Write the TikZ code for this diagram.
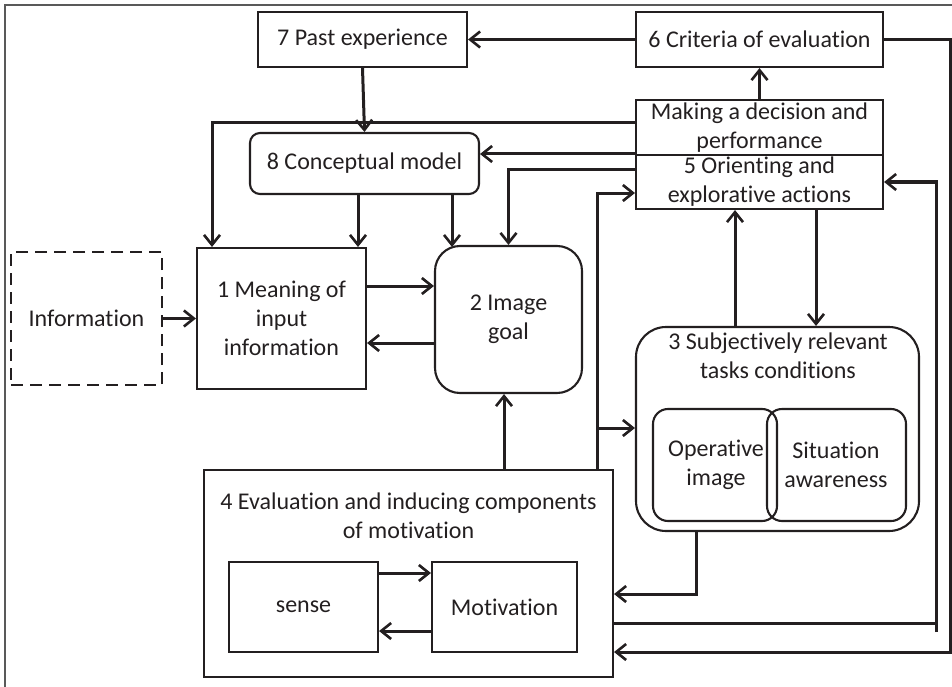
\documentclass[tikz,border=0pt]{standalone}
\usepackage{fontspec}
\setmainfont{Carlito}[Ligatures={NoCommon,NoContextual}]
\usetikzlibrary{arrows.meta}
\definecolor{ink}{HTML}{231F20}
\begin{document}
\begin{tikzpicture}[x=1pt,y=-1pt,
  every node/.style={text=ink,font=\fontsize{24}{29}\selectfont,align=center,inner sep=0pt},
  box/.style={draw=ink,line width=2.1pt,rectangle},
  rbox/.style={box,rounded corners=#1},
  arr/.style={draw=ink,line width=3pt,-{Straight Barb[length=10pt,width=16pt,line width=2.6pt]}},
  rail/.style={draw=ink,line width=3pt}]
\useasboundingbox (0,0) rectangle (952,687);
% page frame
\draw[gray!70!black,line width=1.2pt] (5,687) -- (5,5) -- (952,5);

% boxes
\node[box,dash pattern=on 12pt off 7pt,minimum width=151pt,minimum height=133pt] (info) at (86.5,318.5) {Information};
\node[box,minimum width=169pt,minimum height=141pt] (b1) at (281.5,318.5) {1 Meaning of\\input\\information};
\node[rbox=25pt,minimum width=147pt,minimum height=147pt] (b2) at (508.5,319.5) {2 Image\\goal};
\node[box,minimum width=209pt,minimum height=55pt] (b7) at (362.5,39.5) {7 Past experience};
\node[box,minimum width=247pt,minimum height=55pt] (b6) at (759.5,39.5) {6 Criteria of evaluation};
\node[box,minimum width=247pt,minimum height=55pt] (bdec) at (759.5,127.5) {Making a decision and\\performance};
\node[box,minimum width=247pt,minimum height=54pt] (b5) at (759.5,182) {5 Orienting and\\explorative actions};
\node[rbox=10pt,minimum width=229pt,minimum height=61pt] (b8) at (364.5,163.5) {8 Conceptual model};
\node[rbox=30pt,minimum width=283pt,minimum height=204pt] (b3) at (777.5,429) {};
\node (b3t) at (778,356) {3 Subjectively relevant\\tasks conditions};
\node[rbox=15pt,minimum width=124pt,minimum height=112pt] (op) at (715,465) {};
\node[rbox=15pt,minimum width=139pt,minimum height=112pt] (sa) at (836.5,465) {};
\node (opt) at (716,465) {Operative\\image};
\node (sat) at (836,465) {Situation\\awareness};
\node[box,minimum width=409pt,minimum height=207pt] (b4) at (408.5,573.5) {};
\node (b4t) at (408.5,516) {4 Evaluation and inducing components\\of motivation};
\node[box,minimum width=149pt,minimum height=90pt] (sense) at (303.5,607) {sense};
\node[box,minimum width=145pt,minimum height=90pt] (mot) at (504.5,607) {Motivation};

% rail points
\coordinate (rA) at (950,652);
\coordinate (rB) at (936,623);
\coordinate (rB2) at (936,632);
\coordinate (j1) at (597,428);
\coordinate (j2) at (696,594);

% connectors
\draw[arr] (b6.west) -- (b7.east);
\draw[arr] (b6.east) -| (rA) -- (rA -| b4.east);
\draw[arr] (bdec.north) -- (b6.south);
\draw[arr] (bdec.west |- 0,123) -| (b1.north -| 212,0);
\draw[arr] (b7.south) -- (b8.north);
\draw[arr] (bdec.west |- 0,154) -- (b8.east |- 0,154);
\draw[arr] (b5.west |- 0,170) -| (b2.north);
\draw[arr] (b8.south -| 358,0) -- (b1.north -| 358,0);
\draw[arr] (b8.south -| 452,0) -- (452,247);
\draw[arr] (info.east) -- (b1.west);
\draw[arr] (b1.east |- 0,286) -- (b2.west |- 0,286);
\draw[arr] (b2.west |- 0,343) -- (b1.east |- 0,343);
\draw[arr] (b4.north -| 504,0) -- (b2.south -| 504,0);
\draw[arr] (b4.north -| 597,0) |- (b5.west |- 0,193);
\draw[arr] (j1) -- (b3.west |- j1);
\draw[arr] (b3.north -| 735,0) -- (b5.south -| 735,0);
\draw[arr] (b5.south -| 816,0) -- (b3.north -| 816,0);
\draw[arr] (b3.south -| j2) -- (j2) -- (j2 -| b4.east);
\draw[rail] (b4.east |- rB) -- (rB);
\draw[arr] (rB2) |- (b5.east |- 0,182);
\draw[arr] (sense.east |- 0,573) -- (mot.west |- 0,573);
\draw[arr] (mot.west |- 0,631) -- (sense.east |- 0,631);
\end{tikzpicture}
\end{document}
